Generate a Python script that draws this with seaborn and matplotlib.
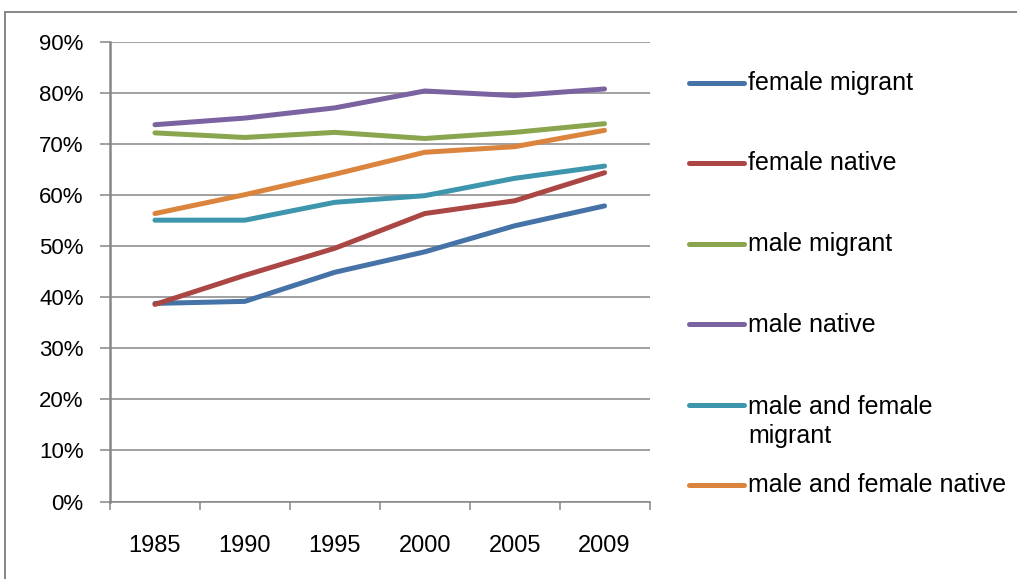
import numpy as np
import pandas as pd
import matplotlib
matplotlib.use("Agg")
import matplotlib.pyplot as plt
from matplotlib.lines import Line2D
from matplotlib.patches import Rectangle
from matplotlib.ticker import PercentFormatter, MultipleLocator
import seaborn as sns

# Employment rate (%) by group and year
years = ["1985", "1990", "1995", "2000", "2005", "2009"]
female_migrant = [38.8, 39.2, 44.9, 48.9, 54.0, 57.9]
female_native = [38.6, 44.3, 49.6, 56.4, 58.9, 64.4]
male_migrant = [72.2, 71.3, 72.3, 71.1, 72.3, 74.0]
male_native = [73.8, 75.1, 77.1, 80.4, 79.5, 80.8]
male_female_migrant = [55.1, 55.1, 58.6, 59.9, 63.3, 65.7]
male_female_native = [56.4, 60.1, 64.1, 68.4, 69.5, 72.7]

series_names = [
    "female migrant",
    "female native",
    "male migrant",
    "male native",
    "male and female migrant",
    "male and female native",
]
legend_labels = [
    "female migrant",
    "female native",
    "male migrant",
    "male native",
    "male and female\nmigrant",
    "male and female native",
]
series_values = [
    female_migrant,
    female_native,
    male_migrant,
    male_native,
    male_female_migrant,
    male_female_native,
]
colors = ["#4572A7", "#AA4643", "#89A54E", "#7B62A0", "#3D96AE", "#DB843D"]

df = pd.concat(
    [pd.DataFrame({"year": years, "rate": vals, "group": name})
     for name, vals in zip(series_names, series_values)],
    ignore_index=True,
)

sns.set_style("white")
plt.rcParams["font.family"] = ["Liberation Sans", "DejaVu Sans"]

W, H = 1017, 579
fig = plt.figure(figsize=(W / 100, H / 100), dpi=100)
fig.patch.set_facecolor("white")

# chart area frame
fig.add_artist(Rectangle((5 / W, -0.5), 2.0, (1 - 12 / H) + 0.5, fill=False,
                         edgecolor="#868686", linewidth=1.4,
                         transform=fig.transFigure))

ax = fig.add_axes([110 / W, 1 - 501.5 / H, 539.5 / W, 459.5 / H])

sns.lineplot(data=df, x="year", y="rate", hue="group", hue_order=series_names,
             palette=dict(zip(series_names, colors)), linewidth=3.6,
             legend=False, ax=ax, sort=False)

grid_color = "#868686"
ax.set_xlim(-0.5, len(years) - 0.5)
ax.set_ylim(0, 90)
ax.yaxis.set_major_locator(MultipleLocator(10))
ax.yaxis.set_major_formatter(PercentFormatter(100, decimals=0))
ax.grid(axis="y", color=grid_color, linewidth=1.1)
ax.grid(axis="x", visible=False)
ax.set_axisbelow(True)

ax.set_xticks(range(len(years)))
ax.set_xticklabels(years)
ax.set_xticks(np.arange(-0.5, len(years)), minor=True)
ax.tick_params(axis="x", which="major", length=0, pad=24, labelsize=17,
               labelcolor="black")
ax.tick_params(axis="x", which="minor", length=6, width=1.1, color=grid_color,
               direction="out", bottom=True)
ax.tick_params(axis="y", which="major", length=7, width=1.1, color=grid_color,
               direction="out", left=True, pad=12, labelsize=16,
               labelcolor="black")

for side in ["top", "right"]:
    ax.spines[side].set_visible(False)
ax.spines["left"].set_color(grid_color)
ax.spines["left"].set_linewidth(1.8)
ax.spines["bottom"].set_color(grid_color)
ax.spines["bottom"].set_linewidth(1.1)
ax.set_xlabel("")
ax.set_ylabel("")

# legend on the right; wrapped labels hang below their key line
line_gap = 31
for i, (label, color) in enumerate(zip(legend_labels, colors)):
    y = 82.5 + i * 80.5
    extra = label.count("\n") * line_gap
    fig.add_artist(Line2D([689 / W, 744 / W], [1 - y / H] * 2, color=color,
                          linewidth=3.6, solid_capstyle="round",
                          transform=fig.transFigure))
    fig.text(748 / W, 1 - (y + 7.5 + extra) / H, label, fontsize=18,
             color="black", va="baseline", ha="left", linespacing=1.25)

fig.savefig("out.png", dpi=100, facecolor="white")
